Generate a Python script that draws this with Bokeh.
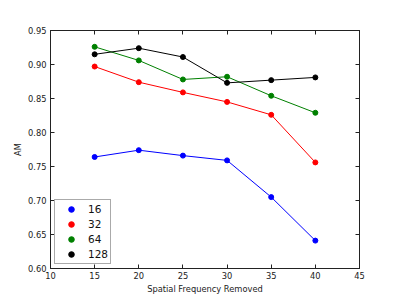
from bokeh.plotting import figure
from bokeh.models import (LinearAxis, FixedTicker, NumeralTickFormatter, Range1d,
                          Legend, LegendItem, CustomJSTickFormatter)
from bokeh.embed import file_html
from bokeh.resources import INLINE

freq_removed = [15, 20, 25, 30, 35, 40]
series_names = ["16", "32", "64", "128"]
am_16 = [0.764, 0.774, 0.766, 0.759, 0.705, 0.641]
am_32 = [0.897, 0.874, 0.859, 0.845, 0.826, 0.756]
am_64 = [0.926, 0.906, 0.878, 0.882, 0.854, 0.829]
am_128 = [0.915, 0.924, 0.911, 0.873, 0.877, 0.881]
colors = ["#0000ff", "#ff0000", "#008000", "#000000"]
x_ticks = [10, 15, 20, 25, 30, 35, 40, 45]
y_ticks = [0.60, 0.65, 0.70, 0.75, 0.80, 0.85, 0.90, 0.95]

FONT = "DejaVu Sans"
INK = "#222222"

p = figure(width=399, height=299, output_backend="svg", toolbar_location=None,
           x_range=Range1d(10, 45), y_range=Range1d(0.60, 0.95),
           min_border_left=50, min_border_right=40, min_border_top=30,
           min_border_bottom=31, background_fill_color="white",
           border_fill_color="white")
p.xgrid.visible = False
p.ygrid.visible = False
p.outline_line_color = INK
p.outline_line_width = 1

for ax in (p.xaxis[0], p.yaxis[0]):
    ax.major_tick_in = 4
    ax.major_tick_out = 0
    ax.minor_tick_line_color = None
    ax.axis_line_color = INK
    ax.major_tick_line_color = INK
    ax.major_label_text_font = FONT
    ax.major_label_text_font_size = "8.3px"
    ax.major_label_text_color = INK
    ax.axis_label_text_font = FONT
    ax.axis_label_text_font_size = "8.3px"
    ax.axis_label_text_font_style = "normal"
    ax.axis_label_text_color = INK

p.xaxis[0].ticker = FixedTicker(ticks=x_ticks)
p.yaxis[0].ticker = FixedTicker(ticks=y_ticks)
p.yaxis[0].formatter = NumeralTickFormatter(format="0.00")
p.xaxis[0].axis_label = "Spatial Frequency Removed"
p.yaxis[0].axis_label = "AM"
p.xaxis[0].major_label_standoff = 3
p.xaxis[0].axis_label_standoff = 2
p.yaxis[0].major_label_standoff = 4
p.yaxis[0].axis_label_standoff = 2

for loc, tick_list in (("right", y_ticks), ("above", x_ticks)):
    ax = LinearAxis(ticker=FixedTicker(ticks=tick_list),
                    formatter=CustomJSTickFormatter(code="return ''"))
    ax.major_tick_in = 4
    ax.major_tick_out = 0
    ax.minor_tick_line_color = None
    ax.major_label_standoff = 0
    ax.axis_line_color = INK
    ax.major_tick_line_color = INK
    p.add_layout(ax, loc)

all_series = [am_16, am_32, am_64, am_128]
items = []
for name, vals, col in zip(series_names, all_series, colors):
    p.line(freq_removed, vals, line_color=col, line_width=1)
    r = p.scatter(freq_removed, vals, marker="circle", size=5,
                  fill_color=col, line_color=col)
    items.append(LegendItem(label=name, renderers=[r]))

legend = Legend(items=items, location="bottom_left")
legend.margin = 4
legend.padding = 2
legend.spacing = 1
legend.glyph_width = 28
legend.glyph_height = 14
legend.label_height = 14
legend.label_standoff = 3
legend.label_text_font = FONT
legend.label_text_font_size = "10.5px"
legend.label_text_color = "#111111"
legend.border_line_color = "#555555"
legend.border_line_width = 1
legend.background_fill_alpha = 1
p.add_layout(legend)

open("out.html", "w").write(file_html(p, INLINE))
